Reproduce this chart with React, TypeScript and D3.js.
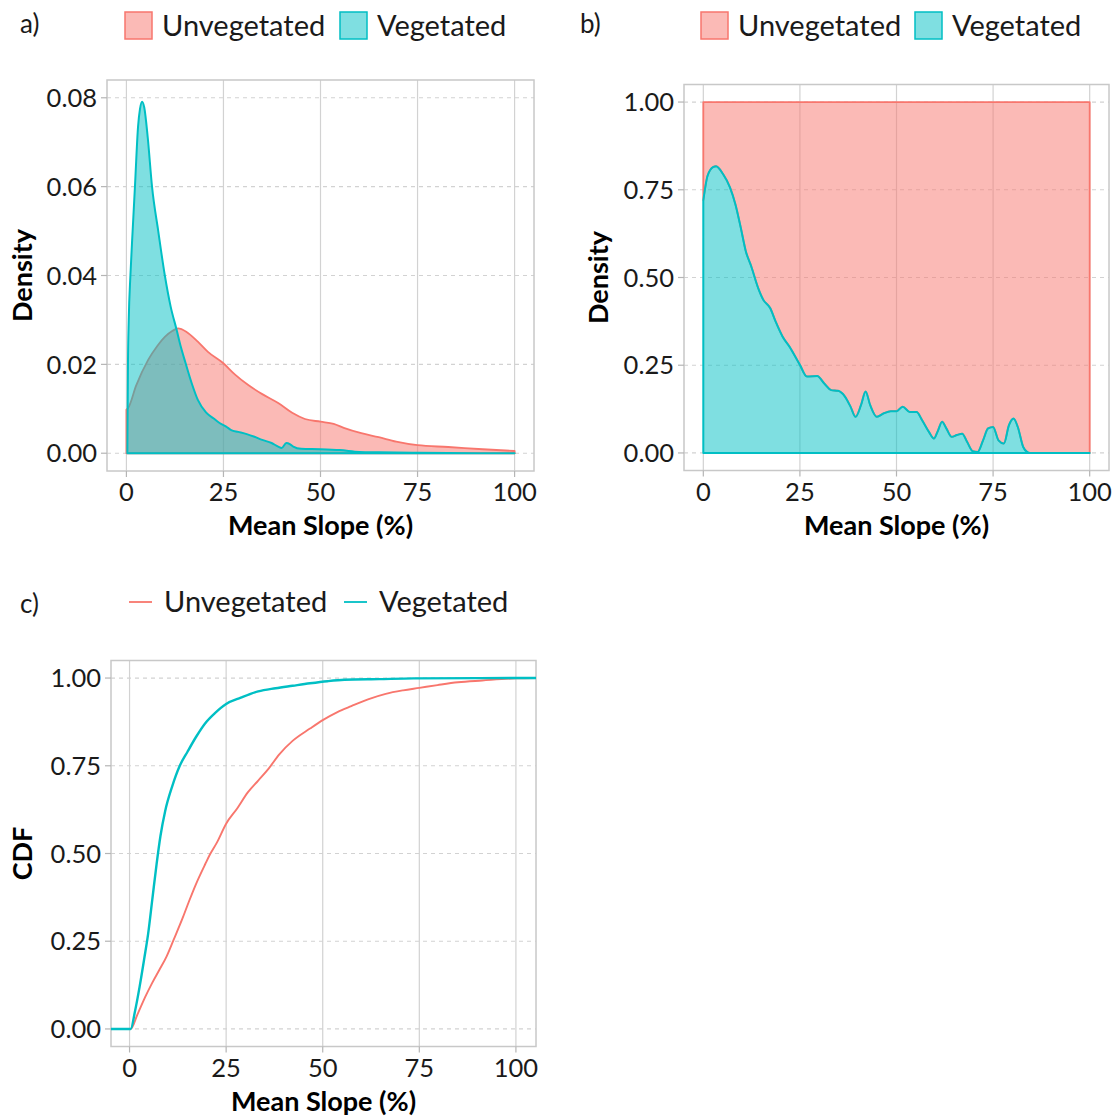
import React from 'react';
import * as d3 from 'd3';

// ---------- data ----------
const groups = ['Unvegetated', 'Vegetated'];
const groupColors = ['#F8766D', '#00BFC4'];
const xTicks = [0, 25, 50, 75, 100];
const densityTicks = [0, 0.02, 0.04, 0.06, 0.08];
const unitTicks = [0, 0.25, 0.5, 0.75, 1];
const panelLabels = ['a)', 'b)', 'c)'];

// panel a: density of mean slope
const unvegDensX = [0, 0.45, 2.5, 5.6, 8, 9.9, 11.8, 13.3, 15.5, 18.4, 21, 24.9, 28, 31.3, 35, 39.1, 42.7, 46, 50, 53.4, 56, 60.5, 65, 69.5, 75, 82.9, 91.8, 100];
const unvegDensY = [0.0098, 0.0102, 0.0152, 0.021, 0.0242, 0.0262, 0.0275, 0.0281, 0.0273, 0.0251, 0.0228, 0.0203, 0.0177, 0.0154, 0.0133, 0.0113, 0.0091, 0.0077, 0.0071, 0.0066, 0.0057, 0.0045, 0.0036, 0.0026, 0.0018, 0.0014, 0.0009, 0.0005];
const vegDensX = [0.25, 0.4, 0.6, 1.03, 1.6, 2.2, 3.0, 3.5, 4.05, 4.6, 5.5, 6.6, 8.2, 9.9, 11.4, 12.9, 14, 15.2, 16.8, 18.4, 20.5, 22.5, 24, 25.7, 27, 28.8, 31, 33, 35, 37.4, 39.1, 40, 41.2, 42.2, 43, 45, 50, 55, 60, 65, 75, 100];
const vegDensY = [0, 0.02, 0.03, 0.04, 0.05, 0.06, 0.0735, 0.0775, 0.0791, 0.0778, 0.071, 0.06, 0.05, 0.04, 0.033, 0.0279, 0.024, 0.0204, 0.0158, 0.012, 0.0092, 0.0078, 0.0068, 0.006, 0.0052, 0.0048, 0.0043, 0.0037, 0.003, 0.0023, 0.0015, 0.0012, 0.0023, 0.002, 0.0015, 0.001, 0.0009, 0.0007, 0.0003, 0.0002, 0.0001, 0];

// panel b: conditional density (vegetated share, unvegetated fills to 1)
const vegShareX = [0, 1.1, 2.6, 3.3, 5.1, 6.9, 8.3, 9.7, 11, 12.4, 14.2, 15.5, 17.3, 18.7, 20.5, 22.3, 25, 26.8, 29.5, 31.3, 33.1, 34.9, 36.7, 38.1, 39.4, 40.8, 42, 43.2, 44.9, 46.7, 48.5, 50, 51.6, 53.4, 55.2, 56.6, 58.4, 59.7, 60.6, 61.8, 62.9, 64.3, 65.6, 67, 68.3, 69.7, 71, 72.4, 73.7, 75, 76.4, 77.8, 79.1, 80.3, 81.4, 82.8, 83.8, 84.6, 100];
const vegShareY = [0.72, 0.79, 0.815, 0.817, 0.795, 0.757, 0.709, 0.642, 0.575, 0.532, 0.47, 0.437, 0.413, 0.375, 0.332, 0.303, 0.251, 0.218, 0.219, 0.198, 0.179, 0.177, 0.16, 0.132, 0.103, 0.136, 0.175, 0.136, 0.103, 0.113, 0.119, 0.119, 0.132, 0.117, 0.117, 0.094, 0.06, 0.041, 0.06, 0.089, 0.07, 0.046, 0.051, 0.055, 0.031, 0.005, 0.003, 0.036, 0.07, 0.074, 0.036, 0.027, 0.079, 0.098, 0.074, 0.017, 0.003, 0, 0];

// panel c: empirical CDFs
const unvegCdfX = [-4.8, 0.3, 2, 4, 5.8, 7.7, 9.6, 11.4, 13.7, 15.4, 17.2, 19.6, 20.8, 22.6, 25, 27.9, 30.6, 33.3, 36, 38.7, 42.2, 46.7, 50, 53.8, 57.4, 61.9, 66.3, 70.8, 75, 79.7, 85, 91.3, 100, 105.2];
const unvegCdfY = [0, 0, 0.04, 0.09, 0.13, 0.168, 0.207, 0.254, 0.315, 0.364, 0.413, 0.47, 0.497, 0.531, 0.585, 0.629, 0.674, 0.708, 0.742, 0.782, 0.821, 0.856, 0.88, 0.903, 0.92, 0.94, 0.955, 0.965, 0.972, 0.98, 0.988, 0.993, 0.999, 1];
const vegCdfX = [-4.8, 0.3, 1.4, 2.6, 3.8, 4.8, 5.9, 7, 8, 9.2, 11, 13, 15, 17.2, 19.5, 22.1, 25, 28.8, 33.3, 37.8, 42.2, 46.7, 51.2, 55.6, 64.6, 73.5, 100, 105.2];
const vegCdfY = [0, 0, 0.05, 0.12, 0.2, 0.27, 0.37, 0.47, 0.55, 0.62, 0.69, 0.75, 0.79, 0.832, 0.87, 0.9, 0.926, 0.944, 0.962, 0.971, 0.978, 0.985, 0.991, 0.995, 0.997, 0.999, 1, 1];

// ---------- helpers ----------
const FONT = 'Lato, "Open Sans", sans-serif';
const GRID = '#d2d2d2';
const zip = (xs: number[], ys: number[]) => xs.map((x, i) => [x, ys[i]] as [number, number]);

type Frame = {
  x: d3.ScaleLinear<number, number>;
  y: d3.ScaleLinear<number, number>;
  yTicks: number[];
  yFmt: (v: number) => string;
  yTitle: string;
  yTitleX: number;
};

function Axes({ f }: { f: Frame }) {
  const [x0, x1] = f.x.range();
  const [y0, y1] = f.y.range();
  const top = Math.min(y0, y1), bottom = Math.max(y0, y1);
  return (
    <g>
      {xTicks.map((t) => (
        <line key={'gx' + t} x1={f.x(t)} x2={f.x(t)} y1={top} y2={bottom} stroke={GRID} strokeWidth={1.2} />
      ))}
      {f.yTicks.map((t) => (
        <line key={'gy' + t} x1={x0} x2={x1} y1={f.y(t)} y2={f.y(t)} stroke={GRID} strokeWidth={1.2} strokeDasharray="4,4" />
      ))}
      <rect x={x0} y={top} width={x1 - x0} height={bottom - top} fill="none" stroke="#c8c8c8" strokeWidth={1.5} />
    </g>
  );
}

function AxisLabels({ f }: { f: Frame }) {
  const [x0, x1] = f.x.range();
  const [y0, y1] = f.y.range();
  const top = Math.min(y0, y1), bottom = Math.max(y0, y1);
  const cy = (top + bottom) / 2;
  return (
    <g fontFamily={FONT} fill="#1a1a1a">
      {f.yTicks.map((t) => (
        <g key={'ty' + t}>
          <line x1={x0 - 6} x2={x0} y1={f.y(t)} y2={f.y(t)} stroke="#b5b5b5" strokeWidth={1.2} />
          <text x={x0 - 10} y={f.y(t)} dy="0.36em" textAnchor="end" fontSize={25.5}>{f.yFmt(t)}</text>
        </g>
      ))}
      {xTicks.map((t) => (
        <g key={'tx' + t}>
          <line x1={f.x(t)} x2={f.x(t)} y1={bottom} y2={bottom + 6} stroke="#b5b5b5" strokeWidth={1.2} />
          <text x={f.x(t)} y={bottom + 30} textAnchor="middle" fontSize={25.5}>{t}</text>
        </g>
      ))}
      <text x={(x0 + x1) / 2} y={bottom + 64} textAnchor="middle" fontSize={27} fontWeight="bold" fill="#000">Mean Slope (%)</text>
      <text transform={`translate(${f.yTitleX},${cy}) rotate(-90)`} textAnchor="middle" fontSize={27} fontWeight="bold" fill="#000">{f.yTitle}</text>
    </g>
  );
}

function FillLegend({ x, y, label, lx }: { x: number[]; y: number; label: string; lx: number }) {
  return (
    <g fontFamily={FONT} fill="#1a1a1a">
      <text x={lx} y={y + 21} fontSize={26}>{label}</text>
      {groups.map((g, i) => (
        <g key={g}>
          <rect x={x[i]} y={y} width={27} height={27} fill={groupColors[i]} fillOpacity={0.5} stroke={groupColors[i]} strokeWidth={1.5} />
          <text x={x[i] + 37} y={y + 24} fontSize={29}>{g}</text>
        </g>
      ))}
    </g>
  );
}

export default function App() {
  const fa: Frame = {
    x: d3.scaleLinear().domain([-5, 105]).range([107, 534]),
    y: d3.scaleLinear().domain([-0.004, 0.084]).range([471, 80]),
    yTicks: densityTicks,
    yFmt: d3.format('.2f'),
    yTitle: 'Density',
    yTitleX: 32,
  };
  const fb: Frame = {
    x: d3.scaleLinear().domain([-5, 105]).range([684, 1109]),
    y: d3.scaleLinear().domain([-0.05, 1.05]).range([470.5, 84.5]),
    yTicks: unitTicks,
    yFmt: d3.format('.2f'),
    yTitle: 'Density',
    yTitleX: 608,
  };
  const fc: Frame = {
    x: d3.scaleLinear().domain([-4.8, 105.2]).range([111, 536]),
    y: d3.scaleLinear().domain([-0.05, 1.05]).range([1046.5, 660.5]),
    yTicks: unitTicks,
    yFmt: d3.format('.2f'),
    yTitle: 'CDF',
    yTitleX: 32,
  };

  const areaA = d3.area<[number, number]>().x((d) => fa.x(d[0])).y0(fa.y(0)).y1((d) => fa.y(d[1])).curve(d3.curveMonotoneX);
  const unvegA = zip(unvegDensX, unvegDensY);
  const vegA = zip(vegDensX, vegDensY);

  const vegB = zip(vegShareX, vegShareY);
  const areaBveg = d3.area<[number, number]>().x((d) => fb.x(d[0])).y0(fb.y(0)).y1((d) => fb.y(d[1])).curve(d3.curveMonotoneX);
  const areaBunveg = d3.area<[number, number]>().x((d) => fb.x(d[0])).y0((d) => fb.y(d[1])).y1(fb.y(1)).curve(d3.curveMonotoneX);

  const lineC = d3.line<[number, number]>().x((d) => fc.x(d[0])).y((d) => fc.y(d[1])).curve(d3.curveMonotoneX);

  return (
    <svg width={1117} height={1120} viewBox="0 0 1117 1120" style={{ position: 'absolute', left: 0, top: 0, background: '#fff' }}>
      <rect x={0} y={0} width={1117} height={1120} fill="#fff" />
      {/* ---------- panel a ---------- */}
      <Axes f={fa} />
      <path d={areaA(unvegA) + 'Z'} fill={groupColors[0]} fillOpacity={0.5} stroke={groupColors[0]} strokeWidth={1.8} strokeLinejoin="round" />
      <path d={areaA(vegA) + 'Z'} fill={groupColors[1]} fillOpacity={0.5} stroke={groupColors[1]} strokeWidth={2} strokeLinejoin="round" />
      <AxisLabels f={fa} />
      <FillLegend x={[125, 340]} y={12} label={panelLabels[0]} lx={20} />

      {/* ---------- panel b ---------- */}
      <Axes f={fb} />
      <path d={areaBunveg(vegB) + 'Z'} fill={groupColors[0]} fillOpacity={0.5} stroke={groupColors[0]} strokeWidth={1.8} strokeLinejoin="round" />
      <path d={areaBveg(vegB) + 'Z'} fill={groupColors[1]} fillOpacity={0.5} stroke={groupColors[1]} strokeWidth={2} strokeLinejoin="round" />
      <AxisLabels f={fb} />
      <FillLegend x={[701, 915]} y={12} label={panelLabels[1]} lx={580} />

      {/* ---------- panel c ---------- */}
      <Axes f={fc} />
      <path d={lineC(zip(unvegCdfX, unvegCdfY)) || ''} fill="none" stroke={groupColors[0]} strokeWidth={1.9} />
      <path d={lineC(zip(vegCdfX, vegCdfY)) || ''} fill="none" stroke={groupColors[1]} strokeWidth={2.4} />
      <AxisLabels f={fc} />
      <g fontFamily={FONT} fill="#1a1a1a">
        <text x={20} y={613} fontSize={26}>{panelLabels[2]}</text>
        {groups.map((g, i) => (
          <g key={g}>
            <line x1={[129, 344][i]} x2={[129, 344][i] + 23} y1={602} y2={602} stroke={groupColors[i]} strokeWidth={1.8} />
            <text x={[129, 344][i] + 35} y={612} fontSize={29}>{g}</text>
          </g>
        ))}
      </g>
    </svg>
  );
}
